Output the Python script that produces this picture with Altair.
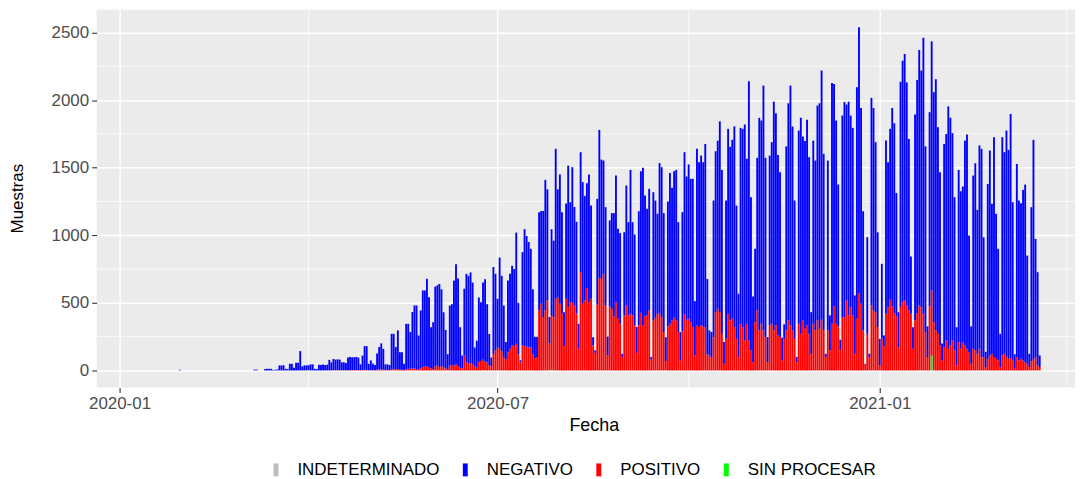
import altair as alt
import pandas as pd

# ---------------- data ----------------
week_start = "2020-03-02"   # Monday of the first week below

# daily total samples (top of each stacked bar), Monday..Sunday
week_totals = [
    [0, 0, 0, 0, 6, 6, 0],
    [0, 0, 10, 12, 12, 12, 5],
    [5, 8, 37, 37, 38, 12, 10],
    [49, 49, 20, 57, 57, 143, 30],
    [37, 37, 38, 45, 45, 12, 10],
    [42, 40, 44, 40, 42, 78, 60],
    [85, 80, 82, 80, 60, 60, 55],
    [95, 100, 97, 98, 100, 95, 45],
    [110, 180, 180, 49, 74, 50, 40],
    [125, 173, 200, 160, 45, 45, 40],
    [271, 271, 173, 296, 135, 135, 49],
    [345, 345, 284, 432, 481, 481, 259],
    [444, 592, 592, 678, 542, 320, 357],
    [620, 630, 640, 600, 430, 300, 120],
    [480, 490, 665, 785, 680, 320, 110],
    [605, 715, 700, 725, 650, 170, 220],
    [540, 505, 650, 675, 490, 270, 95],
    [765, 715, 530, 835, 700, 480, 210],
    [665, 715, 775, 750, 1020, 500, 75],
    [875, 1045, 995, 950, 900, 600, 250],
    [250, 1170, 1180, 1180, 1410, 1340, 395],
    [1045, 960, 1640, 1340, 1450, 1170, 430],
    [1235, 1515, 1245, 1504, 1210, 1100, 345],
    [1615, 1393, 1294, 1385, 1450, 1220, 246],
    [148, 1270, 1780, 1560, 1553, 1208, 251],
    [1110, 1164, 1164, 1443, 1048, 1016, 123],
    [1023, 1368, 1097, 1484, 1097, 1006, 321],
    [1178, 1474, 1500, 1294, 1196, 1344, 99],
    [1319, 1257, 1159, 1534, 1504, 1164, 246],
    [1250, 1460, 1352, 1474, 1484, 1097, 284],
    [1171, 1615, 1435, 1524, 1418, 1418, 513],
    [1640, 1541, 1590, 1541, 1676, 676, 296],
    [284, 1257, 1622, 1700, 1843, 1484, 210],
    [1257, 1787, 1658, 1707, 1806, 1220, 567],
    [1795, 1787, 1820, 1566, 2140, 1282, 547],
    [900, 1573, 1869, 1849, 2108, 1573, 247],
    [1590, 1689, 1989, 1903, 1595, 1467, 242],
    [341, 1658, 1977, 2108, 1805, 1257, 100],
    [1775, 1870, 1731, 1697, 1855, 1578, 431],
    [1701, 1553, 1960, 1977, 2219, 1603, 123],
    [1553, 407, 2126, 2120, 1849, 1376, 227],
    [1886, 1989, 1967, 1989, 1886, 1795, 555],
    [2096, 2539, 1942, 1178, 49, 986, 123],
    [2017, 1942, 1689, 1022, 234, 789, 259],
    [1701, 1541, 1788, 1942, 1829, 1313, 431],
    [2136, 2292, 2342, 2131, 1713, 843, 320],
    [1893, 2149, 2371, 2219, 2461, 1658, 326],
    [1911, 2435, 2059, 2155, 1800, 1467, 200],
    [1676, 1750, 1954, 1870, 1756, 1282, 320],
    [1484, 1326, 1361, 1701, 1745, 998, 326],
    [1442, 1533, 1188, 1665, 1640, 985, 138],
    [1380, 1627, 1233, 1726, 1159, 900, 271],
    [1726, 1615, 1775, 1632, 1898, 1245, 120],
    [1528, 1257, 1237, 1336, 1375, 850, 123],
    [1208, 1706, 973, 727, 111],
]

# daily POSITIVO samples (red part), Monday..Sunday
week_positivo = [
    [0, 0, 0, 0, 0, 0, 0],
    [0, 0, 0, 0, 0, 0, 0],
    [0, 0, 0, 0, 0, 0, 0],
    [0, 0, 0, 0, 0, 0, 0],
    [0, 0, 0, 0, 0, 0, 0],
    [0, 0, 0, 0, 0, 0, 0],
    [2, 2, 2, 2, 1, 1, 1],
    [3, 3, 2, 3, 3, 2, 1],
    [3, 4, 4, 2, 2, 2, 1],
    [5, 8, 6, 5, 3, 2, 1],
    [8, 10, 8, 10, 6, 5, 2],
    [10, 12, 12, 15, 14, 10, 5],
    [15, 25, 28, 30, 25, 15, 10],
    [30, 35, 25, 30, 25, 15, 10],
    [35, 40, 37, 45, 30, 20, 15],
    [110, 60, 50, 55, 45, 30, 20],
    [60, 70, 75, 65, 60, 40, 30],
    [120, 150, 170, 160, 140, 100, 80],
    [135, 160, 185, 180, 197, 120, 60],
    [185, 180, 175, 170, 170, 120, 90],
    [100, 444, 493, 395, 444, 518, 200],
    [400, 395, 530, 540, 493, 419, 180],
    [530, 469, 506, 500, 480, 420, 160],
    [727, 493, 518, 610, 505, 530, 185],
    [130, 488, 685, 678, 715, 480, 111],
    [473, 456, 400, 505, 382, 345, 100],
    [407, 480, 407, 419, 407, 333, 130],
    [333, 427, 333, 400, 407, 444, 80],
    [370, 390, 419, 419, 395, 284, 70],
    [325, 345, 370, 390, 370, 284, 75],
    [291, 414, 375, 382, 357, 321, 111],
    [333, 321, 333, 328, 321, 118, 111],
    [94, 246, 432, 456, 432, 271, 49],
    [234, 419, 370, 382, 321, 234, 99],
    [345, 320, 222, 345, 222, 150, 61],
    [357, 444, 296, 345, 296, 247, 61],
    [333, 345, 296, 333, 259, 247, 74],
    [234, 296, 370, 333, 296, 234, 61],
    [345, 271, 370, 308, 333, 271, 123],
    [345, 296, 370, 308, 375, 300, 100],
    [296, 148, 345, 474, 345, 325, 150],
    [394, 394, 518, 407, 468, 407, 123],
    [382, 572, 493, 296, 45, 271, 99],
    [481, 444, 432, 321, 37, 234, 180],
    [419, 468, 523, 474, 424, 400, 172],
    [470, 505, 520, 480, 445, 419, 160],
    [370, 424, 481, 468, 419, 284, 99],
    [474, 481, 357, 296, 271, 185, 74],
    [173, 222, 160, 185, 222, 148, 37],
    [210, 160, 205, 185, 160, 136, 49],
    [160, 148, 123, 160, 99, 99, 25],
    [86, 111, 123, 99, 86, 74, 25],
    [111, 123, 99, 86, 92, 74, 12],
    [99, 74, 86, 74, 61, 49, 25],
    [68, 80, 99, 37, 25],
]

# isolated early samples (all NEGATIVO)
early_dates = ["2020-01-30"]
early_totals = [5]

# SIN PROCESAR samples (green)
sin_dates = ["2020-04-01", "2020-06-24", "2020-07-27", "2021-01-26"]
sin_values = [3, 4, 4, 110]

# INDETERMINADO samples (grey)
ind_dates = ["2020-08-12", "2020-10-21", "2020-12-15"]
ind_values = [3, 4, 3]

categories = ["INDETERMINADO", "NEGATIVO", "POSITIVO", "SIN PROCESAR"]
cat_colors = ["#BEBEBE", "#0000FF", "#FF0000", "#00FF00"]
stack_rank = {"SIN PROCESAR": 0, "POSITIVO": 1, "NEGATIVO": 2, "INDETERMINADO": 3}

y_major = [0, 500, 1000, 1500, 2000, 2500]
y_minor = [250, 750, 1250, 1750, 2250]
x_minor = ["2020-04-01", "2020-10-01", "2021-04-01"]

# ---------------- long table ----------------
flat_tot = [v for w in week_totals for v in w]
flat_pos = [v for w in week_positivo for v in w]
assert len(flat_tot) == len(flat_pos)
d0 = pd.Timestamp(week_start)
dates = [(d0 + pd.Timedelta(days=i)).strftime("%Y-%m-%d") for i in range(len(flat_tot))]
sin_map = dict(zip(sin_dates, sin_values))
ind_map = dict(zip(ind_dates, ind_values))

rows = []
for dt, tot in zip(early_dates, early_totals):
    rows.append({"fecha": dt, "resultado": "NEGATIVO", "muestras": tot, "ord": stack_rank["NEGATIVO"]})
for dt, tot, pos in zip(dates, flat_tot, flat_pos):
    s = sin_map.get(dt, 0)
    ind = ind_map.get(dt, 0)
    neg = max(tot - pos - s - ind, 0)
    for cat, val in (("SIN PROCESAR", s), ("POSITIVO", pos), ("NEGATIVO", neg), ("INDETERMINADO", ind)):
        if val > 0:
            rows.append({"fecha": dt, "resultado": cat, "muestras": val, "ord": stack_rank[cat]})
df = pd.DataFrame(rows)

FONT = "Liberation Sans"

xscale = alt.Scale(
    type="utc",
    domain=[alt.DateTime(year=2019, month=12, date=21, utc=True),
            alt.DateTime(year=2021, month=4, date=5, utc=True)],
    padding=0,
)
yscale = alt.Scale(domain=[-126, 2668], nice=False, zero=False, padding=0)

xaxis = alt.Axis(
    values=[alt.DateTime(year=2020, month=1, date=1, utc=True),
            alt.DateTime(year=2020, month=7, date=1, utc=True),
            alt.DateTime(year=2021, month=1, date=1, utc=True)],
    format="%Y-%m", title="Fecha",
    titleFont=FONT, titleFontSize=18, titleFontWeight="normal", titleColor="black",
    titleX=499, titleY=43, titleAlign="center", titleBaseline="alphabetic",
    labelFont=FONT, labelFontSize=17, labelColor="#4D4D4D", labelPadding=3, labelFlush=False,
    tickSize=5, tickColor="#333333", tickWidth=1.1, domain=False,
    grid=True, gridColor="white", gridWidth=1.4,
)
yaxis = alt.Axis(
    values=y_major, format="d", title="Muestras",
    titleFont=FONT, titleFontSize=17, titleFontWeight="normal", titleColor="black",
    titleAngle=270, titleX=-79, titleY=189, titleAlign="center", titleBaseline="middle",
    labelFont=FONT, labelFontSize=17, labelColor="#4D4D4D", labelPadding=3,
    tickSize=5, tickColor="#333333", tickWidth=1.1, domain=False,
    grid=True, gridColor="white", gridWidth=1.4,
)

# minor grid lines (drawn under the bars); same axis definitions so axes merge
minor_h = alt.Chart(pd.DataFrame({"v": y_minor})).mark_rule(color="white", strokeWidth=0.7).encode(
    y=alt.Y("v:Q", scale=yscale, axis=yaxis)
)
minor_v = alt.Chart(pd.DataFrame({"d": x_minor})).mark_rule(color="white", strokeWidth=0.7).encode(
    x=alt.X("d:T", scale=xscale, axis=xaxis)
)

bars = alt.Chart(df).mark_bar(size=1.88).encode(
    x=alt.X("fecha:T", scale=xscale, axis=xaxis),
    y=alt.Y("muestras:Q", scale=yscale, axis=yaxis, stack="zero"),
    color=alt.Color(
        "resultado:N",
        scale=alt.Scale(domain=categories, range=cat_colors),
        legend=alt.Legend(
            title=None, orient="none", legendX=171.5, legendY=453, direction="horizontal",
            symbolType="M-0.38,-1L0.38,-1L0.38,1L-0.38,1Z", symbolSize=169, symbolStrokeWidth=0,
            labelFont=FONT, labelFontSize=17, labelColor="black", labelOffset=13,
            columnPadding=17, padding=0,
        ),
    ),
    order=alt.Order("ord:Q", sort="ascending"),
)

chart = alt.layer(minor_h, minor_v, bars).properties(
    width=982,
    height=379,
    autosize=alt.AutoSizeParams(type="none"),
    padding={"left": 89, "top": 1, "right": 0, "bottom": 90},
    background="white",
).configure(font=FONT).configure_view(fill="#EBEBEB", strokeWidth=0)

chart.save("out.html", embed_options={"renderer": "svg", "actions": False})
